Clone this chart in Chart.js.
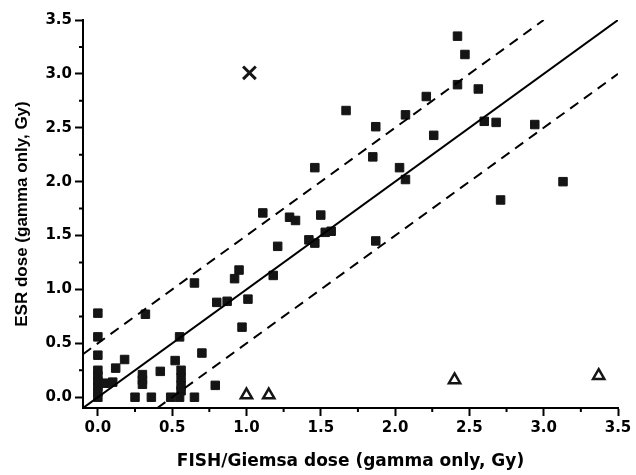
<!DOCTYPE html>
<html><head><meta charset="utf-8">
<script src="https://cdn.jsdelivr.net/npm/chart.js@4.4.1/dist/chart.umd.min.js"></script>
<style>html,body{margin:0;padding:0;background:#fff}</style>
</head><body>
<canvas id="c" width="636" height="475"></canvas>
<script>
// Squares: regular samples
const squareX = [2.42,2.47,2.42,2.56,2.21,2.07,1.67,1.87,2.26,2.60,2.68,2.94,1.85,2.03,2.07,3.13,2.71,1.57,1.87,1.46,
  1.11,1.29,1.33,1.50,1.21,1.42,1.46,1.53,0.65,0.95,0.92,1.18,0.80,0.87,1.01,0.55,0.97,0.70,0.79,0.65,
  0.00,0.00,0.00,0.32,0.18,0.12,0.00,0.00,0.00,0.00,0.00,0.00,0.05,0.10,0.30,0.30,0.30,0.42,0.52,
  0.56,0.56,0.56,0.56,0.25,0.36,0.49,0.55];
const squareY = [3.35,3.18,2.90,2.86,2.79,2.62,2.66,2.51,2.43,2.56,2.55,2.53,2.23,2.13,2.02,2.00,1.83,1.54,1.45,2.13,
  1.71,1.67,1.64,1.69,1.40,1.46,1.43,1.53,1.06,1.18,1.10,1.13,0.88,0.89,0.91,0.56,0.65,0.41,0.11,0.00,
  0.78,0.56,0.39,0.77,0.35,0.27,0.25,0.20,0.15,0.10,0.05,0.00,0.13,0.14,0.21,0.16,0.12,0.24,0.34,
  0.25,0.18,0.11,0.06,0.00,0.00,0.00,0.00];
// Cross: outlier
const crossX = [1.02];
const crossY = [3.01];
// Open triangles
const triX = [1.00,1.15,2.40,3.37];
const triY = [0.02,0.02,0.16,0.20];
// Reference lines
const identX = [-0.1,3.5], identY = [-0.1,3.5];
const upperX = [-0.1,3.0], upperY = [0.4,3.5];
const lowerX = [0.4,3.5],  lowerY = [-0.1,3.0];
// Axes
const axisMin = -0.1, axisMax = 3.5;
const xMinor = [0.25,0.75,1.25,1.75,2.25,2.75,3.25];
const yMinor = [0.25,0.75,1.25,1.75,2.25,2.75,3.25];
const xTitle = 'FISH/Giemsa dose (gamma only, Gy)';
const yTitle = 'ESR dose (gamma only, Gy)';

const pts = (xs, ys) => xs.map((v,i)=>({x:v, y:ys[i]}));

const minorTicks = {
  id:'minorTicks',
  afterDraw(chart){
    const {ctx, scales:{x,y}} = chart;
    ctx.save(); ctx.strokeStyle='#000'; ctx.lineWidth=2;
    ctx.beginPath();
    xMinor.forEach(v=>{const px=x.getPixelForValue(v); ctx.moveTo(px, x.top); ctx.lineTo(px, x.top+4);});
    yMinor.forEach(v=>{const py=y.getPixelForValue(v); ctx.moveTo(y.right, py); ctx.lineTo(y.right-4, py);});
    ctx.stroke(); ctx.restore();
  }
};

const tickFont = {family:'DejaVu Sans', weight:'bold', size:15};
const lineDs = (xs, ys, dash) => ({data:pts(xs,ys), showLine:true, pointRadius:0, borderColor:'#000',
  borderWidth:2, borderDash:dash, fill:false});

new Chart(document.getElementById('c'), {
  type:'scatter',
  data:{datasets:[
    lineDs(identX, identY, []),
    lineDs(upperX, upperY, [10,7]),
    lineDs(lowerX, lowerY, [10,7]),
    {data:pts(squareX,squareY), pointStyle:'rect', pointRadius:6, backgroundColor:'#151515', borderColor:'#151515', borderWidth:1},
    {data:pts(crossX,crossY), pointStyle:'crossRot', pointRadius:9, borderColor:'#151515', borderWidth:3},
    {data:pts(triX,triY), pointStyle:'triangle', pointRadius:6.5, backgroundColor:'#fff', borderColor:'#151515', borderWidth:2.5}
  ]},
  options:{
    responsive:false, animation:false,
    layout:{padding:{top:20,right:18,left:0,bottom:0}},
    plugins:{legend:{display:false}, tooltip:{enabled:false}},
    scales:{
      x:{type:'linear', min:axisMin, max:axisMax,
        ticks:{stepSize:0.5, includeBounds:false, callback:v=>v.toFixed(1), font:tickFont, color:'#000', padding:3, maxRotation:0, autoSkip:false},
        grid:{drawOnChartArea:false, drawTicks:true, tickLength:8, tickWidth:2, tickColor:'#000', color:'#000'},
        border:{display:true, color:'#000', width:2},
        title:{display:true, text:xTitle, color:'#000', font:{family:'DejaVu Sans', weight:'bold', size:17}, padding:{top:0,bottom:3}},
        afterFit(s){ s.height = 67; }
      },
      y:{type:'linear', min:axisMin, max:axisMax,
        ticks:{stepSize:0.5, includeBounds:false, callback:v=>v.toFixed(1), font:tickFont, color:'#000', padding:3, autoSkip:false},
        grid:{drawOnChartArea:false, drawTicks:true, tickLength:8, tickWidth:2, tickColor:'#000', color:'#000'},
        border:{display:true, color:'#000', width:2},
        title:{display:true, text:yTitle, color:'#000', font:{family:'Liberation Sans', weight:'bold', size:17}, padding:{top:12,bottom:0}},
        afterFit(s){ s.width = 83; }
      }
    }
  },
  plugins:[minorTicks]
});
</script>
</body></html>
